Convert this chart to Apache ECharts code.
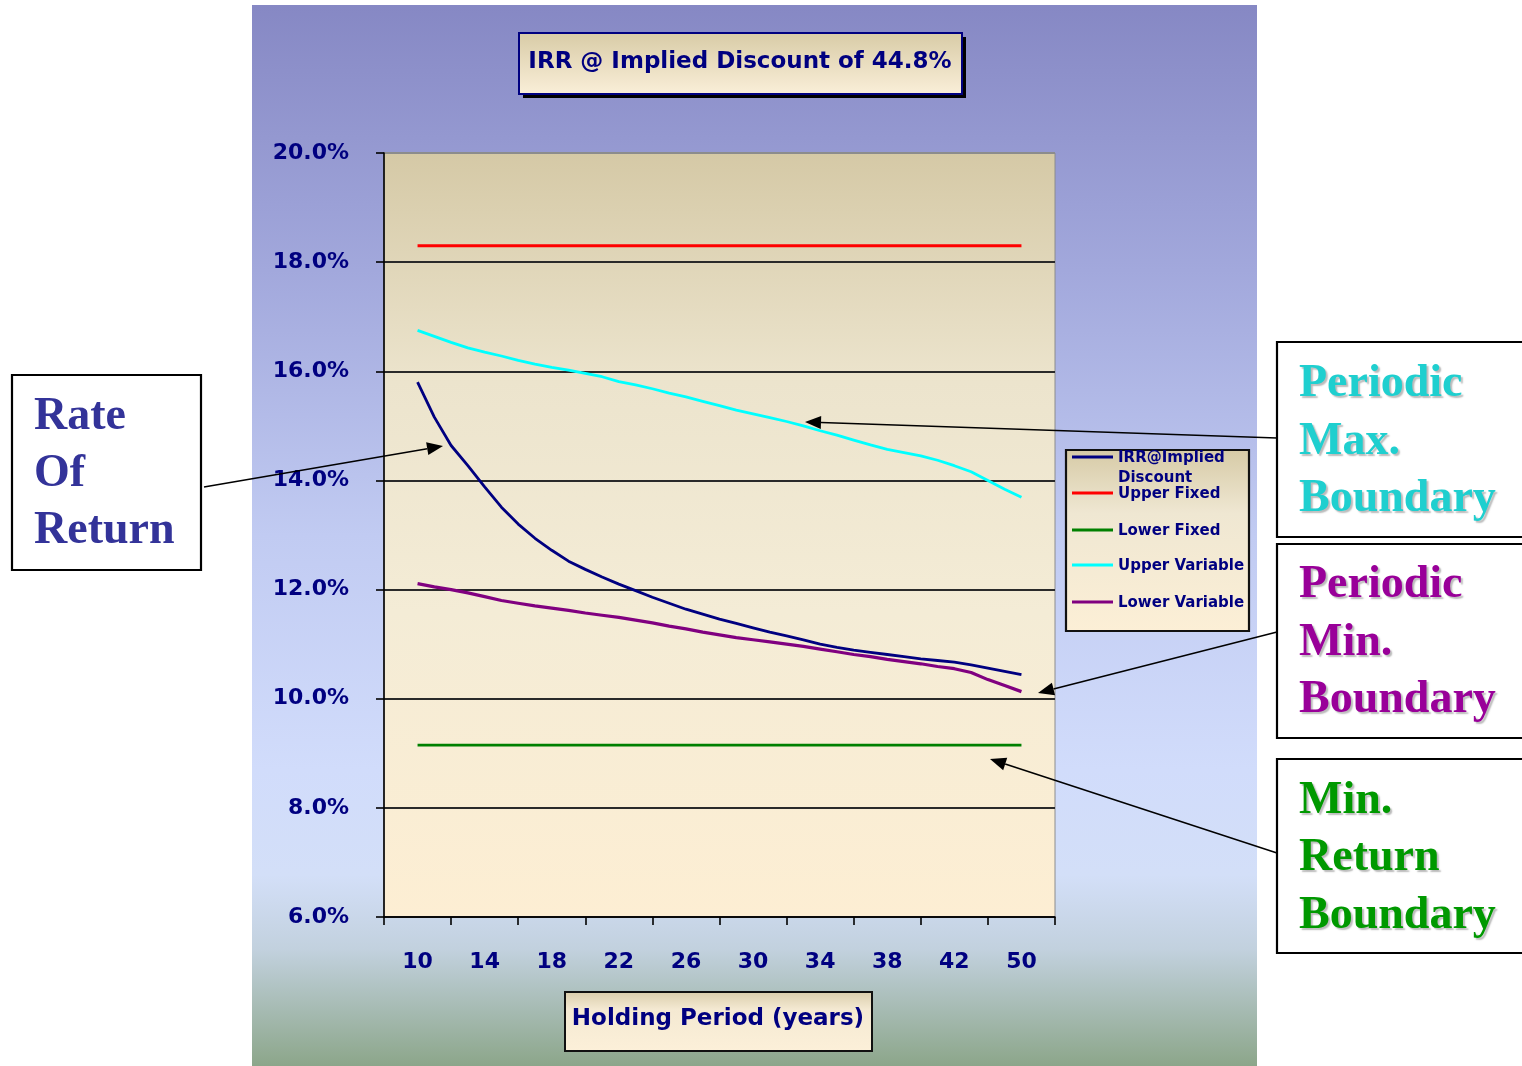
<!DOCTYPE html>
<html>
<head>
<meta charset="utf-8">
<title>IRR @ Implied Discount of 44.8%</title>
<script src="https://cdn.jsdelivr.net/npm/echarts@6/dist/echarts.min.js"></script>
<style>
  html, body { margin: 0; padding: 0; background: #ffffff; }
  #chart { width: 1522px; height: 1066px; }
</style>
</head>
<body>
<div id="chart"></div>
<script>
// Holding period (years) — one category per point on the curves
const years = [10, 11, 12, 13, 14, 15, 16, 17, 18, 19, 20, 21, 22, 23, 24, 25, 26, 27,
  28, 29, 30, 31, 32, 33, 34, 35, 36, 37, 38, 39, 40, 41, 42, 44, 46, 48, 50];

// IRR at the implied discount (%)
const irrImplied = [15.80, 15.16, 14.64, 14.27, 13.88, 13.51, 13.20, 12.94, 12.72, 12.52,
  12.37, 12.23, 12.10, 11.98, 11.86, 11.75, 11.64, 11.55, 11.46, 11.38, 11.30, 11.22,
  11.15, 11.08, 11.00, 10.94, 10.89, 10.85, 10.81, 10.77, 10.73, 10.70, 10.67, 10.62,
  10.56, 10.50, 10.44];

// Fixed boundaries (%)
const upperFixed = [18.3, 18.3, 18.3, 18.3, 18.3, 18.3, 18.3, 18.3, 18.3, 18.3, 18.3,
  18.3, 18.3, 18.3, 18.3, 18.3, 18.3, 18.3, 18.3, 18.3, 18.3, 18.3, 18.3, 18.3, 18.3,
  18.3, 18.3, 18.3, 18.3, 18.3, 18.3, 18.3, 18.3, 18.3, 18.3, 18.3, 18.3];
const lowerFixed = [9.15, 9.15, 9.15, 9.15, 9.15, 9.15, 9.15, 9.15, 9.15, 9.15, 9.15,
  9.15, 9.15, 9.15, 9.15, 9.15, 9.15, 9.15, 9.15, 9.15, 9.15, 9.15, 9.15, 9.15, 9.15,
  9.15, 9.15, 9.15, 9.15, 9.15, 9.15, 9.15, 9.15, 9.15, 9.15, 9.15, 9.15];

// Periodic (variable) boundaries (%)
const upperVariable = [16.75, 16.64, 16.53, 16.43, 16.35, 16.28, 16.20, 16.13, 16.07,
  16.02, 15.96, 15.90, 15.81, 15.75, 15.68, 15.60, 15.53, 15.45, 15.37, 15.29, 15.22,
  15.15, 15.08, 15.00, 14.91, 14.83, 14.74, 14.65, 14.57, 14.51, 14.45, 14.37, 14.27,
  14.16, 14.00, 13.84, 13.69];
const lowerVariable = [12.11, 12.05, 12.00, 11.94, 11.87, 11.80, 11.75, 11.70, 11.66,
  11.62, 11.57, 11.53, 11.49, 11.44, 11.39, 11.33, 11.28, 11.22, 11.17, 11.12, 11.08,
  11.04, 11.00, 10.96, 10.91, 10.86, 10.81, 10.77, 10.72, 10.68, 10.64, 10.59, 10.55,
  10.48, 10.35, 10.24, 10.13];

// Y axis ticks (%)
const yMin = 6, yMax = 20, yStep = 2;

const seriesNames = ['IRR@Implied Discount', 'Upper Fixed', 'Lower Fixed', 'Upper Variable', 'Lower Variable'];
const seriesValues = [irrImplied, upperFixed, lowerFixed, upperVariable, lowerVariable];
const seriesColors = ['#000080', '#ff0000', '#008000', '#00ffff', '#800080'];
const legendLabels = ['IRR@Implied\nDiscount', 'Upper Fixed', 'Lower Fixed', 'Upper Variable', 'Lower Variable'];

// two empty slots on each side of the year categories
const xCategories = [' ', '  '].concat(years.map(String), ['   ', '    ']);
const padSeries = arr => [null, null].concat(arr, [null, null]);

const NAVY = '#000080';
const LG = (stops) => new echarts.graphic.LinearGradient(0, 0, 0, 1,
  stops.map(s => ({ offset: s[0], color: s[1] })));

function arrow(x1, y1, x2, y2) {
  const dx = x2 - x1, dy = y2 - y1, L = Math.hypot(dx, dy);
  const ux = dx / L, uy = dy / L, hl = 16, hw = 6.5;
  const bx = x2 - ux * hl, by = y2 - uy * hl;
  return [
    { type: 'line', z: 100, shape: { x1: x1, y1: y1, x2: bx, y2: by },
      style: { stroke: '#000', lineWidth: 1.6 } },
    { type: 'polygon', z: 100,
      shape: { points: [[x2, y2], [bx - uy * hw, by + ux * hw], [bx + uy * hw, by - ux * hw]] },
      style: { fill: '#000' } }
  ];
}

function noteBox(x, y, w, h, lines, color, lineYs, shadow) {
  const els = [{
    type: 'rect', z: 100, shape: { x: x, y: y, width: w, height: h },
    style: { fill: '#ffffff', stroke: '#000', lineWidth: 2.2 }
  }];
  lines.forEach((t, i) => {
    els.push({
      type: 'text', z: 101,
      style: {
        text: t, x: x + 22, y: lineYs[i],
        font: 'bold 46px "Liberation Serif", serif',
        fill: color, align: 'left', verticalAlign: 'middle',
        textAlign: 'left', textVerticalAlign: 'middle',
        textShadowColor: shadow ? 'rgba(140,140,140,0.6)' : 'transparent',
        textShadowOffsetX: shadow ? 2 : 0, textShadowOffsetY: shadow ? 2 : 0,
        textShadowBlur: shadow ? 1.5 : 0
      }
    });
  });
  return els;
}

const chart = echarts.init(document.getElementById('chart'), null, { renderer: 'canvas' });

const graphics = [];
// chart panel
graphics.push({
  type: 'rect', z: -100, silent: true,
  shape: { x: 252, y: 5, width: 1005, height: 1061 },
  style: { fill: LG([[0, '#8688c4'], [0.25, '#a2a8dc'], [0.5, '#c1cbf2'], [0.72, '#d1dcfb'],
    [0.82, '#d3dff8'], [0.89, '#c2d1de'], [1, '#8ca68a']]) }
});
// title box with shadow
graphics.push({ type: 'rect', z: 50, shape: { x: 523, y: 37, width: 443, height: 61 }, style: { fill: '#000' } });
graphics.push({ type: 'rect', z: 51, shape: { x: 519, y: 33, width: 443, height: 61 },
  style: { fill: LG([[0, '#d8cba6'], [1, '#faefd9']]), stroke: NAVY, lineWidth: 2 } });
graphics.push({ type: 'text', z: 52, style: {
  text: 'IRR @ Implied Discount of 44.8%', x: 740, y: 62,
  font: 'bold 23px "DejaVu Sans", sans-serif', fill: NAVY,
  align: 'center', verticalAlign: 'middle', textAlign: 'center', textVerticalAlign: 'middle' } });
// x-axis name box
graphics.push({ type: 'rect', z: 51, shape: { x: 565, y: 992, width: 307, height: 59 },
  style: { fill: LG([[0, '#d9ccaa'], [0.3, '#f4e9d2'], [1, '#fcf0d9']]), stroke: '#111', lineWidth: 2 } });
graphics.push({ type: 'text', z: 52, style: {
  text: 'Holding Period (years)', x: 718, y: 1019,
  font: 'bold 23px "DejaVu Sans", sans-serif', fill: NAVY,
  align: 'center', verticalAlign: 'middle', textAlign: 'center', textVerticalAlign: 'middle' } });
// legend box
graphics.push({ type: 'rect', z: 51, shape: { x: 1066, y: 450, width: 183, height: 181 },
  style: { fill: LG([[0, '#d6caa6'], [0.35, '#efe7d2'], [1, '#fcefd6']]), stroke: '#111', lineWidth: 2.2 } });
const legendYs = [457, 493, 530, 565, 602];
seriesNames.forEach((n, i) => {
  graphics.push({ type: 'line', z: 52, shape: { x1: 1072, y1: legendYs[i], x2: 1113, y2: legendYs[i] },
    style: { stroke: seriesColors[i], lineWidth: 3 } });
  graphics.push({ type: 'text', z: 52, style: {
    text: legendLabels[i], x: 1118, y: legendYs[i] - 9,
    font: 'bold 15px "DejaVu Sans", sans-serif', fill: NAVY, lineHeight: 20,
    width: 129, overflow: 'truncate', ellipsis: '',
    align: 'left', verticalAlign: 'top', textAlign: 'left', textVerticalAlign: 'top' } });
});
// annotation boxes and arrows
noteBox(12, 375, 189, 195, ['Rate', 'Of', 'Return'], '#333399', [417, 474, 531], false).forEach(e => graphics.push(e));
noteBox(1277, 342, 260, 195, ['Periodic', 'Max.', 'Boundary'], '#1fcfcf', [384, 442, 499], true).forEach(e => graphics.push(e));
noteBox(1277, 544, 260, 194, ['Periodic', 'Min.', 'Boundary'], '#990099', [585, 643, 700], true).forEach(e => graphics.push(e));
noteBox(1277, 759, 260, 194, ['Min.', 'Return', 'Boundary'], '#009900', [801, 858, 916], true).forEach(e => graphics.push(e));
arrow(204, 487, 443, 446).forEach(e => graphics.push(e));
arrow(1277, 438, 805, 422).forEach(e => graphics.push(e));
arrow(1277, 632, 1038, 693).forEach(e => graphics.push(e));
arrow(1277, 853, 990, 759).forEach(e => graphics.push(e));

const option = {
  animation: false,
  backgroundColor: '#ffffff',
  grid: {
    left: 384, top: 153, width: 671, height: 764,
    show: true, borderColor: '#8c8c8c', borderWidth: 1,
    backgroundColor: LG([[0, '#d5c9a6'], [0.3, '#ece4cd'], [0.6, '#f4ecd6'], [1, '#fdeed3']])
  },
  xAxis: {
    type: 'category',
    data: xCategories,
    boundaryGap: false,
    axisLine: { lineStyle: { color: '#000', width: 1.6 } },
    axisTick: { show: true, inside: false, length: 8, interval: (i) => i % 4 === 0,
      lineStyle: { color: '#000', width: 1.6 } },
    axisLabel: { interval: (i) => i % 4 === 2, margin: 34, color: NAVY,
      fontFamily: 'DejaVu Sans', fontWeight: 'bold', fontSize: 22 },
    splitLine: { show: false }
  },
  yAxis: {
    type: 'value', min: yMin, max: yMax, interval: yStep,
    axisLine: { show: true, lineStyle: { color: '#000', width: 1.6 } },
    axisTick: { show: true, inside: false, length: 8, lineStyle: { color: '#000', width: 1.6 } },
    axisLabel: { margin: 35, color: NAVY, fontFamily: 'DejaVu Sans', fontWeight: 'bold', fontSize: 22,
      formatter: (v) => v.toFixed(1) + '%' },
    splitLine: { show: true, lineStyle: { color: ['#2a2a2a', '#2a2a2a', '#2a2a2a', '#2a2a2a', '#2a2a2a', '#2a2a2a', '#2a2a2a', '#8c8c8c'], width: 1.8 } }
  },
  series: seriesNames.map((n, i) => ({
    name: n, type: 'line', data: padSeries(seriesValues[i]),
    symbol: 'none', smooth: false, z: 3 + i,
    lineStyle: { color: seriesColors[i], width: i === 4 ? 3.2 : 2.8 },
    itemStyle: { color: seriesColors[i] }
  })),
  graphic: { elements: graphics }
};

chart.setOption(option);
</script>
</body>
</html>
